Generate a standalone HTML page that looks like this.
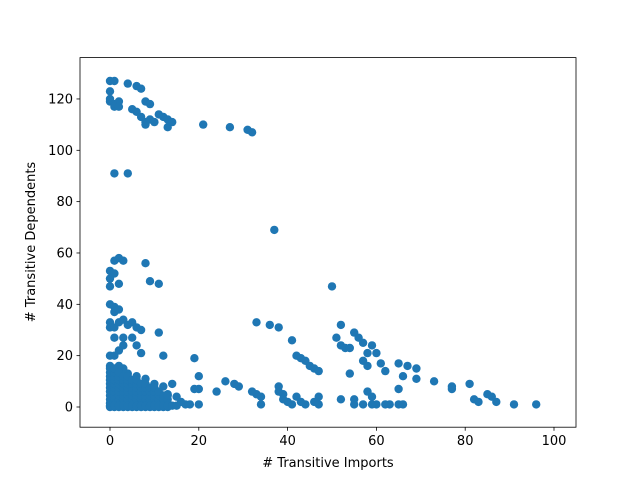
<!DOCTYPE html>
<html><head><meta charset="utf-8"><style>
body{margin:0;background:#fff}
svg text{font-family:"DejaVu Sans","Liberation Sans",sans-serif;font-size:13px;fill:#000}
</style></head><body>
<svg id="s" width="640" height="480" xmlns="http://www.w3.org/2000/svg">
<rect width="640" height="480" fill="#fff"/>
<g id="pts"></g>
<rect x="80" y="57.6" width="496" height="369.6" fill="none" stroke="#000" stroke-width="0.8"/>
<g id="ticks" stroke="#000" stroke-width="0.8"></g>
<g id="labels"></g>
<text x="328" y="467" text-anchor="middle">&#35; Transitive Imports</text>
<text transform="translate(35,242) rotate(-90)" text-anchor="middle">&#35; Transitive Dependents</text>
</svg>
<script>
(function(){
var X=function(v){return 110+v*4.44},Y=function(v){return 407-v*2.567};
var d=[[0,127],[1,127],[0,123],[0,120],[0,119],[1,118],[2,119],[1,117],[2,117],[4,126],[6,125],[7,124],[5,116],[6,115],[7,113],[8,119],[9,118],[8,111],[8,110],[9,112],[10,111],[11,114],[12,113],[13,112],[13,109],[14,111],[21,110],[27,109],[31,108],[32,107],
[1,91],[4,91],[37,69],[0,53],[1,52],[0,50],[0,47],[1,57],[2,58],[3,57],[2,48],[8,56],[9,49],[11,48],[0,40],[1,39],[1,37],[2,38],[0,33],[0,31],[1,31],[2,33],[3,34],[4,32],[5,33],[6,31],[3,27],[1,27],[7,30],[11,29],[5,27],[6,24],[3,24],[1,20],[0,20],[2,22],[7,21],[12,20],[19,19],
[50,47],[41,26],[33,33],[36,32],[38,31],[52,32],[51,27],[52,24],[53,23],[54,23],[55,29],[56,27],[57,25],[58,21],[59,24],[60,21],[61,17],[62,14],[57,18],[58,16],[42,20],[43,19],[44,18],[45,16],[46,15],[47,14],[54,13],[65,17],[67,16],[69,15],[66,12],[69,11],[73,10],[77,8],[77,7],[81,9],[82,3],[83,2],[85,5],[86,4],[87,2],[91,1],[96,1],[65,7],[63,1],[65,1],[66,1],[62,1],[60,1],[59,1],[58,6],[59,4],[55,1],[55,3],[57,1],[52,3],[47,4],[47,1],[46,2],[44,1],[43,2],[42,4],[41,1],[40,2],[39,5],[38,8],[38,6],[39,3],[34,1],[34,4],[33,5],[32,6],[29,8],[28,9],[26,10],[24,6],[20,12],[20,7],[19,7],[20,1],[18,1],[17,1],[16,2],[15,4],[14,9],[12,8],[13,5],[10,9],[8,11],[6,12],[4,13],[3,15],[2,16],[0,16],[7,2],[12,1]];
for(var i=0;i<=13;i+=1){var tp=Math.max(16-i*0.85,2);for(var j=0;j<=tp;j+=1.5)d.push([i,j]);}
for(var i=0;i<=15;i++)d.push([i,0.5]);
var g=document.getElementById('pts'),h='';
d.forEach(function(a){h+='<circle cx="'+X(a[0]).toFixed(1)+'" cy="'+Y(a[1]).toFixed(1)+'" r="4.2" fill="#1f77b4"/>'});
g.innerHTML=h;
var t='',l='';
[0,20,40,60,80,100].forEach(function(v){var x=X(v);t+='<line x1="'+x+'" y1="427.2" x2="'+x+'" y2="430.7"/>';l+='<text x="'+x+'" y="445" text-anchor="middle">'+v+'</text>'});
[0,20,40,60,80,100,120].forEach(function(v){var y=Y(v);t+='<line x1="76.5" y1="'+y+'" x2="80" y2="'+y+'"/>';l+='<text x="73" y="'+(y+4.5)+'" text-anchor="end">'+v+'</text>'});
document.getElementById('ticks').innerHTML=t;document.getElementById('labels').innerHTML=l;
})();
</script>
</body></html>
